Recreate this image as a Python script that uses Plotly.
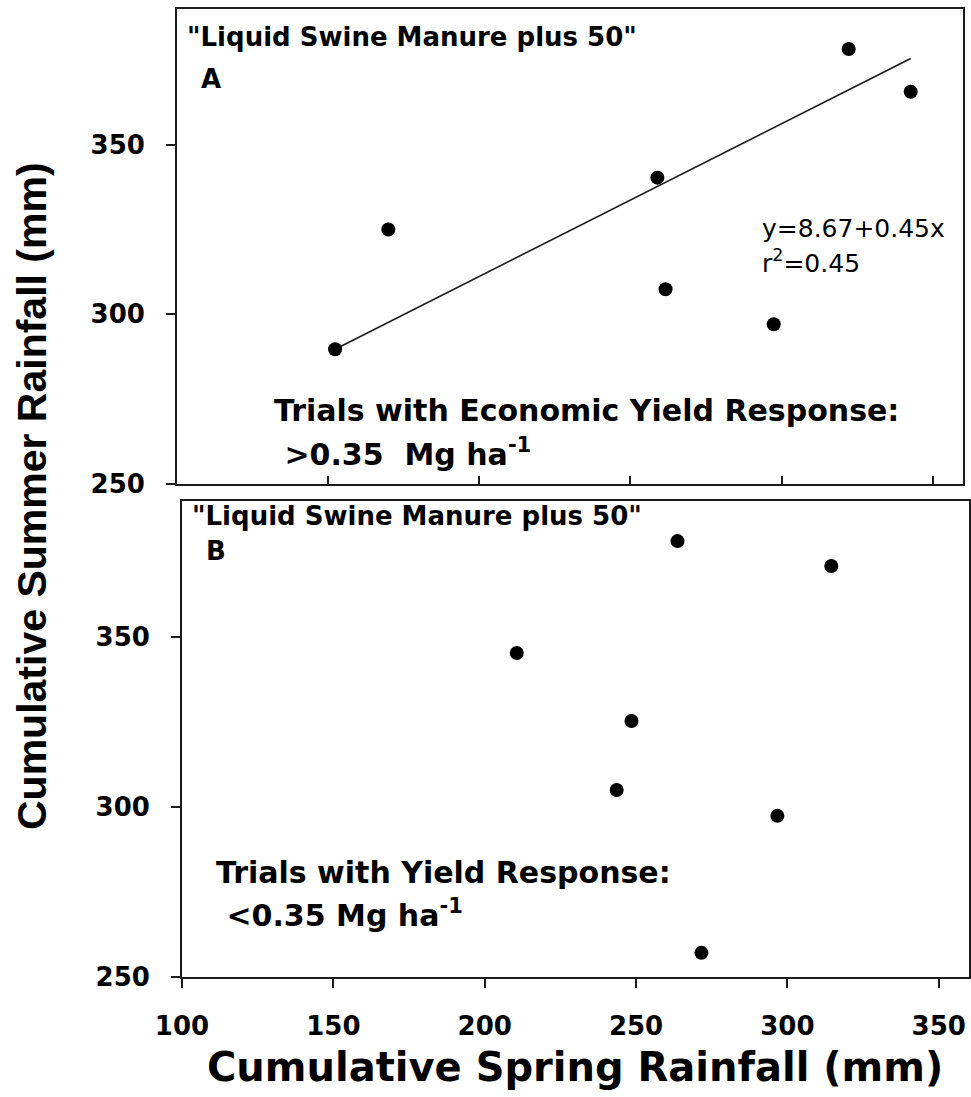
import plotly.graph_objects as go

# panel A: trials with economic yield response
a_spring = [152.3, 169.9, 258.9, 261.6, 297.4, 322.2, 342.7]
a_summer = [289.7, 325.0, 340.3, 307.4, 297.1, 378.2, 365.6]

# panel B: trials with yield response below threshold
b_spring = [210.6, 248.5, 243.6, 263.7, 314.5, 296.7, 271.6]
b_summer = [345.3, 325.3, 305.0, 378.2, 370.9, 297.4, 257.1]

# drawn regression line in panel A
fit_slope = 0.45
fit_intercept = 221.2

x_ticks_top = [150, 200, 250, 300, 350]
x_ticks_bottom = [100, 150, 200, 250, 300, 350]
y_ticks = [250, 300, 350]

W, H = 971, 1097
INK = "#1a1a1a"
BOLD = "DejaVu Sans"


def px(x):
    return x / W


def py(y):
    return 1 - y / H


fit_x = [min(a_spring), max(a_spring)]
fit_y = [fit_intercept + fit_slope * v for v in fit_x]

fig = go.Figure()

fig.add_trace(
    go.Scatter(
        x=fit_x, y=fit_y, mode="lines",
        line=dict(color=INK, width=1.6),
        xaxis="x", yaxis="y", hoverinfo="skip",
    )
)
fig.add_trace(
    go.Scatter(
        x=a_spring, y=a_summer, mode="markers",
        marker=dict(color="black", size=14),
        xaxis="x", yaxis="y", name="A",
    )
)
fig.add_trace(
    go.Scatter(
        x=b_spring, y=b_summer, mode="markers",
        marker=dict(color="black", size=14),
        xaxis="x2", yaxis="y2", name="B",
    )
)

axis_common = dict(
    showline=True, mirror=True, linecolor=INK, linewidth=1.8,
    showgrid=False, zeroline=False, tickcolor=INK, tickwidth=1.5,
    automargin=False,
)
tick_font = dict(family=BOLD, size=26, color="black", weight="bold")

fig.update_layout(
    width=W, height=H, autosize=False,
    margin=dict(l=0, r=0, t=0, b=0),
    paper_bgcolor="white", plot_bgcolor="white",
    showlegend=False,
    xaxis=dict(
        domain=[px(177), px(963)], anchor="y", range=[100, 360],
        tickvals=x_ticks_top, showticklabels=False,
        ticks="inside", ticklen=8, **axis_common,
    ),
    yaxis=dict(
        domain=[py(484), py(9)], anchor="x", range=[250, 390],
        tickvals=y_ticks, ticks="outside", ticklen=9,
        tickfont=tick_font, ticklabelstandoff=16, **axis_common,
    ),
    xaxis2=dict(
        domain=[px(182), px(969)], anchor="y2", range=[100, 360],
        tickvals=x_ticks_bottom, ticks="outside", ticklen=9,
        tickfont=tick_font, ticklabelstandoff=16, **axis_common,
    ),
    yaxis2=dict(
        domain=[py(977), py(501)], anchor="x2", range=[250, 390],
        tickvals=y_ticks, ticks="outside", ticklen=9,
        tickfont=tick_font, ticklabelstandoff=16, **axis_common,
    ),
)


def note(text, x, y, size, bold=True, family=BOLD, anchor="left"):
    fig.add_annotation(
        text=text, x=px(x), y=py(y), xref="paper", yref="paper",
        xanchor=anchor, yanchor="middle", showarrow=False,
        font=dict(family=family, size=size, color="black",
                  weight="bold" if bold else "normal"),
    )


nb = "\u00a0"
note('"Liquid Swine Manure plus 50"', 185, 37, 26)
note("A", 199, 79, 26)
note("y=8.67+0.45x", 760, 228, 25, bold=False)
note("r<sup>2</sup>=0.45", 760, 262, 25, bold=False)
note("Trials with Economic Yield Response:", 272, 411, 30)
note(f"{nb}>0.35{nb}{nb}Mg ha<sup>-1</sup>", 272, 452, 30)

note('"Liquid Swine Manure plus 50"', 190, 516, 26)
note("B", 204, 551, 26)
note("Trials with Yield Response:", 214, 872, 30)
note(f"{nb}<0.35 Mg ha<sup>-1</sup>", 214, 913, 30)

note("Cumulative Spring Rainfall (mm)", 575, 1067, 40, anchor="center")
fig.add_annotation(
    text="Cumulative Summer Rainfall (mm)", x=px(32), y=py(496),
    xref="paper", yref="paper", xanchor="center", yanchor="middle",
    showarrow=False, textangle=-90,
    font=dict(family="Liberation Sans", size=41, color="black", weight="bold"),
)

# the page body has a default margin; drop it so the figure sits at 0,0
fig.write_html(
    "out.html",
    config={"displayModeBar": False},
    post_script="document.body.style.margin='0';",
)
